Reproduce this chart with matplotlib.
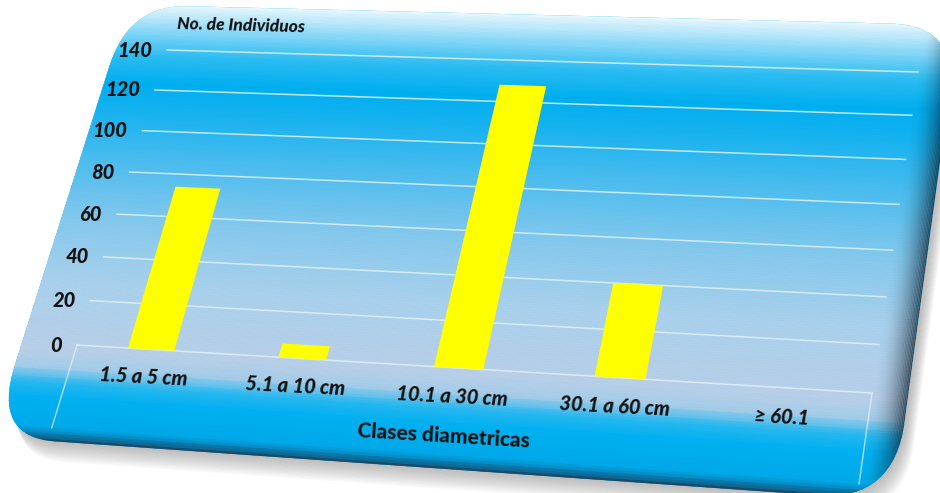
import numpy as np
import matplotlib
matplotlib.use("Agg")
import matplotlib.pyplot as plt
from matplotlib.transforms import Transform, Affine2D
from matplotlib.patches import FancyBboxPatch, Polygon
from matplotlib.colors import LinearSegmentedColormap

categories = ["1.5 a 5 cm", "5.1 a 10 cm", "10.1 a 30 cm", "30.1 a 60 cm", "≥ 60.1"]
individuos = [74, 6, 128, 40, 0]
y_ticks = [0, 20, 40, 60, 80, 100, 120, 140]
y_label = "No. de Individuos"
x_label = "Clases diametricas"

W, H = 940, 493

# corners of the plot area on the picture (pixels, y down) -> tilted look
corners = {(0, 0): (77, 345), (1, 0): (872, 393), (0, 1): (167, 50), (1, 1): (918, 72)}


def homography(pairs):
    A, b = [], []
    for (u, v), (x, y) in pairs.items():
        y = H - y
        A.append([u, v, 1, 0, 0, 0, -u * x, -v * x]); b.append(x)
        A.append([0, 0, 0, u, v, 1, -u * y, -v * y]); b.append(y)
    h = np.linalg.solve(np.array(A, float), np.array(b, float))
    return np.append(h, 1).reshape(3, 3)


class Perspective(Transform):
    input_dims = output_dims = 2
    has_inverse = True

    def __init__(self, M):
        super().__init__()
        self.M = M

    def transform_non_affine(self, values):
        pts = np.asarray(values, float)
        flat = pts.ndim == 1
        pts = pts.reshape(-1, 2)
        q = np.c_[pts, np.ones(len(pts))] @ self.M.T
        out = q[:, :2] / q[:, 2:]
        return out[0] if flat else out

    def inverted(self):
        return Perspective(np.linalg.inv(self.M))


fig = plt.figure(figsize=(W / 100, H / 100), dpi=100)
ax = fig.add_axes([0, 0, 1, 1])
ax.set_xlim(-0.5, len(categories) - 0.5)
ax.set_ylim(0, 140)
ax.set_axis_off()
ax.autoscale(False)

persp = Perspective(homography(corners))   # axes fraction -> pixels
T = ax.transLimits + persp                 # data -> pixels

font = dict(family=["Lato", "DejaVu Sans"], weight=900, style="italic", color="#111111")

# card (rounded panel) in axes-fraction space
u0, u1, v0, v1 = -0.075, 1.042, -0.30, 1.16
card_kw = dict(boxstyle="round,pad=0,rounding_size=0.085", mutation_aspect=2.65)

# soft shadow
for k in range(12):
    sh = FancyBboxPatch((u0, v0), u1 - u0, v1 - v0, **card_kw,
                        transform=persp + Affine2D().translate(2 + k * 0.7, -(2 + k * 1.7)),
                        facecolor="#707070", edgecolor="none", alpha=0.045, zorder=0)
    ax.add_patch(sh)

card = FancyBboxPatch((u0, v0), u1 - u0, v1 - v0, **card_kw, transform=persp,
                      facecolor="#00b0f0", edgecolor="none", zorder=1)
ax.add_patch(card)

stops_v = [-0.30, -0.285, -0.26, -0.17, -0.12, -0.075, -0.02, 0.2, 0.4, 0.6, 0.78, 0.88, 0.98, 1.07, 1.16]
stops_c = ["#1a4a66", "#0a72a4", "#00a8e8", "#00b0f0", "#2ab8f0", "#a4cce8", "#b9cfe7",
           "#a9d0eb", "#86c8ec", "#4fbdee", "#16b2ef", "#00aeef", "#2cbcf2", "#8ad8f7", "#e6f6fd"]
pos = [(s - v0) / (v1 - v0) for s in stops_v]
cmap = LinearSegmentedColormap.from_list("card", list(zip(pos, stops_c)))

vs = np.linspace(v0, v1, 180)
for a, b in zip(vs[:-1], vs[1:]):
    c = cmap((0.5 * (a + b) - v0) / (v1 - v0))
    ax.add_patch(Polygon([(u0 - 0.05, a), (u1 + 0.05, a), (u1 + 0.05, b), (u0 - 0.05, b)],
                         transform=persp, facecolor=c, edgecolor=c, lw=0.6,
                         clip_path=card, zorder=1.1))

# dark rim on the right side
us = np.linspace(1.0, u1, 25)
for a, b in zip(us[:-1], us[1:]):
    t = ((0.5 * (a + b)) - us[0]) / (u1 - us[0])
    ax.add_patch(Polygon([(a, v0 - 0.05), (b, v0 - 0.05), (b, v1 + 0.05), (a, v1 + 0.05)],
                         transform=persp, facecolor="#0a1a26", edgecolor="none",
                         alpha=0.75 * t ** 2, clip_path=card, zorder=1.2))

# gridlines
x_lo, x_hi = -0.5, len(categories) - 0.5
for t in y_ticks:
    ax.plot([x_lo, x_hi], [t, t], transform=T, color="#dff1fb", lw=1.1, alpha=0.85, zorder=2)
    ax.text(x_lo, t, str(t), transform=T + Affine2D().translate(-15, 0),
            ha="right", va="center", fontsize=14.5, **font, zorder=5)

# frame under the axis
for xe in (x_lo, x_hi):
    ax.plot([xe, xe], [0, -0.26 * 140], transform=T, color="#e8f4fb", lw=1, alpha=0.7, zorder=2)

# bars
x = np.arange(len(categories))
ax.bar(x, individuos, width=0.31, color="#ffff00", transform=T, zorder=3)

# category labels
for i, lab in enumerate(categories):
    ax.text(i, -0.085 * 140, lab, transform=T, ha="center", va="center",
            rotation=-3, rotation_mode="anchor", fontsize=14.5, **font, zorder=5)

ax.text(0.50, -0.205, x_label, transform=persp, ha="center", va="center",
        rotation=-3.5, rotation_mode="anchor", fontsize=15,
        **dict(font, style="normal"), zorder=5)
ax.text(0.095, 1.095, y_label, transform=persp, ha="center", va="center",
        rotation=-1.5, rotation_mode="anchor", fontsize=12.5, **font, zorder=5)

fig.savefig("out.png", dpi=100, facecolor="white")
